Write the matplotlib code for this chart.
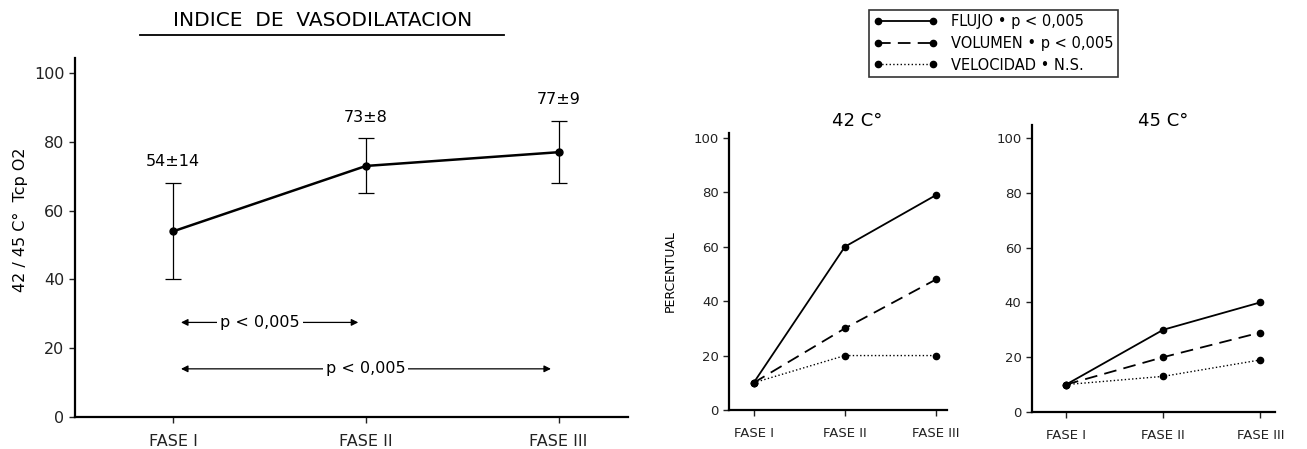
import matplotlib
matplotlib.use("Agg")
import matplotlib.pyplot as plt
from matplotlib.lines import Line2D

plt.rcParams['font.family'] = ['DejaVu Sans']

# vasodilatation index, mean +/- sd per phase
fases = ['FASE I', 'FASE II', 'FASE III']
indice_media = [54, 73, 77]
indice_sd = [14, 8, 9]

# comparisons drawn under the curve: (from phase, to phase, height)
comparaciones = [(0, 1, 27.5), (0, 2, 14)]
texto_p = 'p < 0,005'

# percent change per phase at each temperature
flujo_42 = [10, 60, 79]
volumen_42 = [10, 30, 48]
velocidad_42 = [10, 20, 20]

flujo_45 = [10, 30, 40]
volumen_45 = [10, 20, 29]
velocidad_45 = [10, 13, 19]

series_labels = ['FLUJO \u2022 p < 0,005', 'VOLUMEN \u2022 p < 0,005', 'VELOCIDAD \u2022 N.S.']

W, H = 1307, 449
fig = plt.figure(figsize=(W / 100, H / 100), dpi=100)


def style_axes(ax, ymax, xlim, fs):
    ax.spines['top'].set_visible(False)
    ax.spines['right'].set_visible(False)
    ax.spines['left'].set_linewidth(1.6)
    ax.spines['bottom'].set_linewidth(1.6)
    ax.set_ylim(0, ymax)
    ax.set_xlim(*xlim)
    ax.set_yticks([0, 20, 40, 60, 80, 100])
    ax.set_xticks(range(len(fases)))
    ax.set_xticklabels(fases)
    ax.tick_params(direction='out', length=4, width=1, labelsize=fs, colors='#222222')
    ax.tick_params(axis='x', pad=8)


# ---- left: vasodilatation index ----
ax1 = fig.add_axes([0.0574, 0.0713, 0.4231, 0.7996])
x = list(range(len(fases)))
ax1.errorbar(x, indice_media, yerr=indice_sd, color='black', lw=1.8,
             marker='o', ms=5, capsize=6, elinewidth=0.9, capthick=0.9)
for xi, m, s in zip(x, indice_media, indice_sd):
    ax1.text(xi, m + s + 4, f'{m}\u00b1{s}', ha='center', va='bottom', fontsize=11.5)
for a, b, y in comparaciones:
    ax1.annotate('', xy=(a + 0.04, y), xytext=(b - 0.04, y),
                 arrowprops=dict(arrowstyle='<|-|>', color='black', lw=0.9,
                                 mutation_scale=10, shrinkA=0, shrinkB=0))
    ax1.text((a + b) / 2 - (0.05 if b - a == 1 else 0), y, texto_p, ha='center', va='center',
             fontsize=11.5, bbox=dict(facecolor='white', edgecolor='none', pad=2))
style_axes(ax1, 104.4, (-0.51, 2.36), 11.5)
ax1.set_ylabel('42 / 45 C\u00b0  Tcp O2', fontsize=11.5)
ax1.yaxis.set_label_coords(-0.085, 0.55)
fig.text(0.2465, 1 - 21 / H, 'INDICE  DE  VASODILATACION', ha='center', va='center', fontsize=14.5)
fig.add_artist(Line2D([140 / W, 504 / W], [1 - 35 / H, 1 - 35 / H], color='black', lw=1.3))

# ---- right: percentages at 42 and 45 C ----
estilos = [dict(ls='-', lw=1.3), dict(ls=(0, (7, 4)), lw=1.3), dict(ls=':', lw=1.0)]


def panel(rect, datos, ymax, xlim):
    ax = fig.add_axes(rect)
    for serie, st in zip(datos, estilos):
        ax.plot(x, serie, color='black', marker='o', ms=4.5, **st)
    style_axes(ax, ymax, xlim, 9.5)
    return ax


ax2 = panel([0.5578, 0.0869, 0.1668, 0.6169], [flujo_42, volumen_42, velocidad_42],
            101.8, (-0.27, 2.12))
ax2.set_ylabel('PERCENTUAL', fontsize=9, labelpad=12)
fig.text(857 / W, 1 - 121 / H, '42 C\u00b0', ha='center', va='center', fontsize=13)

ax3 = panel([0.7896, 0.0824, 0.1859, 0.6392], [flujo_45, volumen_45, velocidad_45],
            104.7, (-0.35, 2.15))
fig.text(1163 / W, 1 - 121 / H, '45 C\u00b0', ha='center', va='center', fontsize=13)

handles = [Line2D([], [], color='black', marker='o', ms=4.5, **st) for st in estilos]
leg = fig.legend(handles, series_labels, loc='upper left',
                 bbox_to_anchor=(869 / W, 1 - 10 / H), numpoints=2,
                 handlelength=4.4, fontsize=10.5, frameon=True, fancybox=False,
                 borderpad=0.3, labelspacing=0.45, handletextpad=0.9, borderaxespad=0)
leg.get_frame().set_edgecolor('black')
leg.get_frame().set_linewidth(1.2)

fig.savefig('out.png', dpi=100)
